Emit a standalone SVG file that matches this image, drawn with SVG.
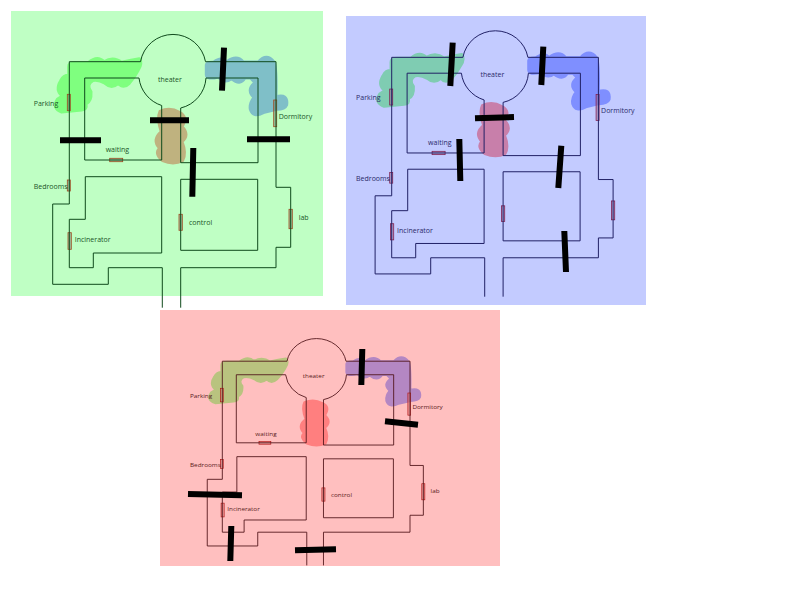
<svg xmlns="http://www.w3.org/2000/svg" xmlns:xlink="http://www.w3.org/1999/xlink" width="800" height="600" viewBox="0 0 800 600">
<style>
.wall{fill:none;stroke-width:1;vector-effect:non-scaling-stroke}
.bar{stroke:#000;stroke-width:6;fill:none}
.door{stroke-width:.8;vector-effect:non-scaling-stroke;fill-opacity:.5}
.blob{stroke-width:9;stroke-linejoin:round}
text{font-family:"Open Sans","Liberation Sans",sans-serif;font-size:7px}
</style>
<defs>
<path id="blobL" transform="translate(10 10) scale(.3333)" d="M388 146Q398 160 385 180Q372 205 358 220Q340 238 325 220Q305 238 285 220Q265 208 248 212Q228 225 243 245Q245 275 228 282Q232 300 215 300L155 306Q125 295 142 268L157 258Q135 240 152 212Q160 195 176 195L176 170Q175 158 195 158L235 158Q262 135 282 155Q310 138 335 157Q365 150 388 146Z"/>
<path id="blobR" transform="translate(10 10) scale(.3333)" d="M589 165Q590 156 610 157Q635 138 650 156Q680 133 700 156L745 156Q770 128 792 156Q800 170 798 260Q835 250 830 285Q825 298 800 298L760 308Q730 325 721 298Q718 280 732 262Q708 240 735 218L722 204L705 204Q690 228 665 206Q645 222 625 201Q590 210 589 195Z"/>
<path id="blobC" transform="translate(10 10) scale(.3333)" d="M450 304Q480 290 508 307Q535 320 516 350Q540 375 516 395Q530 430 518 452Q490 466 458 452Q432 430 449 415Q425 390 454 365Q440 325 450 304Z"/>
<path id="walls" d="M140.5 61.7H69.3V204H52.7V284.3H108.3V267.7H162.3V307.7M205.5 61.7H276V187.3H290.7V247.3H276V267.7H180.7V307.7M139 78H84.7V160H161.7V105.5M180.7 108V162.7H258V78H206M140.5 61.7A33 33 0 0 1 205.5 61.7M139 78A33 33 0 0 0 161.7 105.5M206 78A33 33 0 0 1 180.7 108M85.3 176.7H161.7V253H93.3V267.7H69.3V219.3H85.3ZM180.7 179.3H257.7V250.3H180.7Z"/>
<g id="doors">
<rect x="109.7" y="158.3" width="13" height="3.4"/>
<rect x="67.3" y="180" width="3" height="11"/>
<rect x="68" y="232.7" width="3.3" height="16.6"/>
<rect x="179" y="214.3" width="3.3" height="16"/>
<rect x="289" y="209.3" width="3.3" height="19.4"/>
<rect x="273.7" y="100" width="3" height="26.7"/>
<rect x="67.3" y="94.3" width="3" height="16.4"/>
</g>
</defs>

<g id="panel-green">
<rect x="11" y="11" width="312" height="285" fill="#bfffc4"/>
<use xlink:href="#blobL" href="#blobL" class="blob" fill="#7fff7f" stroke="#7fff7f"/>
<use xlink:href="#blobR" href="#blobR" class="blob" fill="#7fbfc8" stroke="#7fbfc8"/>
<use xlink:href="#blobC" href="#blobC" class="blob" fill="#bfb27f" stroke="#bfb27f"/>
<use xlink:href="#doors" href="#doors" class="door" fill="#6f7f6f" stroke="#a04a20"/>
<use xlink:href="#walls" href="#walls" class="wall" stroke="#0f4a1c"/>
<g fill="#1a5528">
<text x="33.7" y="106">Parking</text><text x="158" y="81.5">theater</text><text x="278.7" y="119">Dormitory</text><text x="105.7" y="152">waiting</text><text x="33.7" y="189">Bedrooms</text><text x="74.7" y="242.3">Incinerator</text><text x="189" y="225">control</text><text x="298.7" y="220">lab</text>
</g>
<g class="bar"><path d="M224 47.7L222 90.7M150 120.3H189M60 140.3H101M247 139.3H290M193.3 148L192.3 196.7"/></g>
</g>

<g id="panel-blue">
<rect x="346" y="16" width="300" height="289" fill="#c3cbff"/>
<g transform="translate(322.4 -2.7) scale(1 .973)">
<use xlink:href="#blobL" href="#blobL" class="blob" fill="#7fccb2" stroke="#7fccb2"/>
<use xlink:href="#blobR" href="#blobR" class="blob" fill="#7f8fff" stroke="#7f8fff"/>
<use xlink:href="#blobC" href="#blobC" class="blob" fill="#c87faa" stroke="#c87faa"/>
<use xlink:href="#doors" href="#doors" class="door" fill="#a07098" stroke="#802050"/>
<use xlink:href="#walls" href="#walls" class="wall" stroke="#1e1e64"/>
<g fill="#2a2a6a">
<text x="33.7" y="106">Parking</text><text x="158" y="81.5">theater</text><text x="278.7" y="119">Dormitory</text><text x="105.7" y="152">waiting</text><text x="33.7" y="189">Bedrooms</text><text x="74.7" y="242.3">Incinerator</text>
</g>
</g>
<g class="bar"><path d="M452.7 42.7L450.3 86M543.3 46.7L541.3 85M475 118.3L514 117M459.3 139L460.3 181M561.3 145.7L558.3 188M564.3 231L566 272"/></g>
</g>

<g id="panel-red">
<rect x="160" y="310" width="340" height="256" fill="#ffbfbf"/>
<g transform="translate(159.4 310) scale(.908 .83)">
<use xlink:href="#blobL" href="#blobL" class="blob" fill="#b9c37f" stroke="#b9c37f"/>
<use xlink:href="#blobR" href="#blobR" class="blob" fill="#b487c3" stroke="#b487c3"/>
<use xlink:href="#blobC" href="#blobC" class="blob" fill="#ff7f7f" stroke="#ff7f7f"/>
<use xlink:href="#doors" href="#doors" class="door" fill="#e08080" stroke="#b01818"/>
<use xlink:href="#walls" href="#walls" class="wall" stroke="#501418"/>
<g fill="#5a2020">
<text x="33.7" y="106">Parking</text><text x="158" y="81.5">theater</text><text x="278.7" y="119">Dormitory</text><text x="105.7" y="152">waiting</text><text x="33.7" y="189">Bedrooms</text><text x="74.7" y="242.3">Incinerator</text><text x="189" y="225">control</text><text x="298.7" y="220">lab</text>
</g>
</g>
<g class="bar"><path d="M362.3 349L361.3 385M385 421.3L418 424.7M188 494L242 495.3M231.3 526L230.3 561M295 550.3L336 549.3"/></g>
</g>
</svg>
